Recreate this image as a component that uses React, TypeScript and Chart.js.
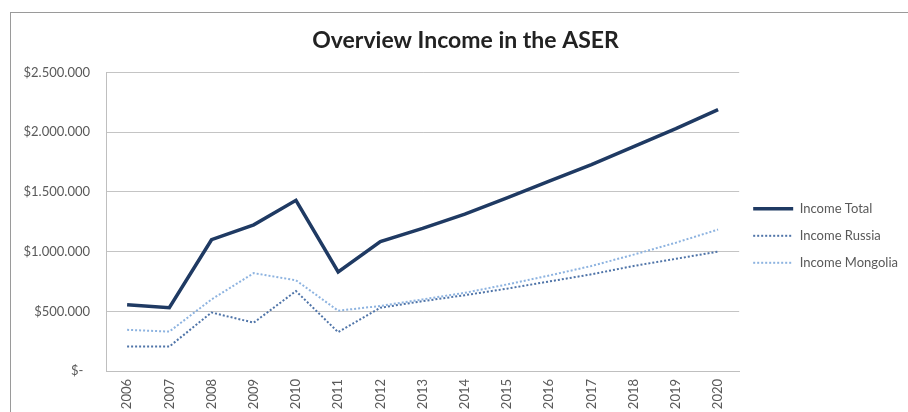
import React, { useEffect, useRef } from "react";
import { Chart, registerables } from "chart.js";

Chart.register(...registerables);

const years = ["2006", "2007", "2008", "2009", "2010", "2011", "2012", "2013", "2014", "2015", "2016", "2017", "2018", "2019", "2020"];
const incomeTotal = [555000, 530000, 1100000, 1225000, 1430000, 830000, 1085000, 1195000, 1315000, 1450000, 1590000, 1730000, 1880000, 2030000, 2190000];
const incomeRussia = [205000, 205000, 490000, 405000, 670000, 325000, 530000, 585000, 635000, 690000, 750000, 810000, 880000, 940000, 1000000];
const incomeMongolia = [345000, 330000, 600000, 820000, 760000, 505000, 545000, 600000, 655000, 725000, 800000, 880000, 975000, 1075000, 1185000];
const yTicks = [0, 500000, 1000000, 1500000, 2000000, 2500000];

const fmt = (v: number) => {
  if (v === 0) return "$-  ";
  return "$" + String(v).replace(/\B(?=(\d{3})+(?!\d))/g, ".");
};

export default function App() {
  const ref = useRef<HTMLCanvasElement | null>(null);
  useEffect(() => {
    const ctx = ref.current!;
    const font = "Lato, 'Open Sans', sans-serif";
    const chart = new Chart(ctx, {
      type: "line",
      data: {
        labels: years,
        datasets: [
          { label: "Income Total", data: incomeTotal, borderColor: "#1f3a63", backgroundColor: "#1f3a63", borderWidth: 3.5, pointRadius: 0, tension: 0 },
          { label: "Income Russia", data: incomeRussia, borderColor: "#4f74a8", backgroundColor: "#4f74a8", borderWidth: 2, borderDash: [2, 2], pointRadius: 0, tension: 0 },
          { label: "Income Mongolia", data: incomeMongolia, borderColor: "#8db3e0", backgroundColor: "#8db3e0", borderWidth: 2, borderDash: [2, 2], pointRadius: 0, tension: 0 },
        ],
      },
      options: {
        animation: false,
        responsive: false,
        maintainAspectRatio: false,
        layout: { padding: { left: 23, right: 0, top: 0, bottom: 0 } },
        plugins: {
          title: {
            display: true,
            text: "Overview Income in the ASER",
            color: "#222222",
            font: { family: font, size: 23, weight: "bold" },
            padding: { top: 27, bottom: 18 },
          },
          legend: {
            position: "right",
            align: "center",
            title: { display: true, text: " ", padding: { top: 44, bottom: 0 }, font: { size: 13 } },
            labels: {
              usePointStyle: true,
              pointStyle: "line",
              pointStyleWidth: 40,
              boxHeight: 13,
              padding: 14,
              color: "#595959",
              font: { family: font, size: 13 },
              generateLabels: (c: any) => {
                const items = Chart.defaults.plugins.legend.labels.generateLabels(c);
                return items.map((it: any) => {
                  const ds: any = c.data.datasets[it.datasetIndex];
                  return { ...it, lineWidth: ds.borderWidth, lineDash: ds.borderDash || [], strokeStyle: ds.borderColor, pointStyle: "line" };
                });
              },
            },
          },
          tooltip: { enabled: false },
        },
        scales: {
          x: {
            offset: true,
            grid: { display: false, drawTicks: false },
            border: { display: true, color: "#bfbfbf" },
            ticks: { minRotation: 90, maxRotation: 90, padding: 8, color: "#595959", font: { family: font, size: 13 } },
            afterFit: (s: any) => { s.height = 41; },
          },
          y: {
            min: 0,
            max: 2500000,
            afterBuildTicks: (s: any) => { s.ticks = yTicks.map((v) => ({ value: v })); },
            grid: { color: "#c4c4c4", drawTicks: false },
            border: { display: true, color: "#bfbfbf" },
            ticks: { padding: 16, color: "#595959", font: { family: font, size: 13 }, callback: (v: any) => fmt(Number(v)) },
            afterFit: (s: any) => { s.width = 83; },
          },
        },
      },
    });
    return () => chart.destroy();
  }, []);
  return (
    <div style={{ position: "fixed", left: 0, top: 0, width: 908, height: 412, overflow: "hidden", background: "#ffffff" }}>
      <div style={{ position: "absolute", left: 10, top: 12, width: 1000, height: 500, borderLeft: "1px solid #9a9a9a", borderTop: "1px solid #9a9a9a" }} />
      <canvas ref={ref} width={908} height={412} style={{ position: "absolute", left: 0, top: 0, width: 908, height: 412 }} />
    </div>
  );
}
